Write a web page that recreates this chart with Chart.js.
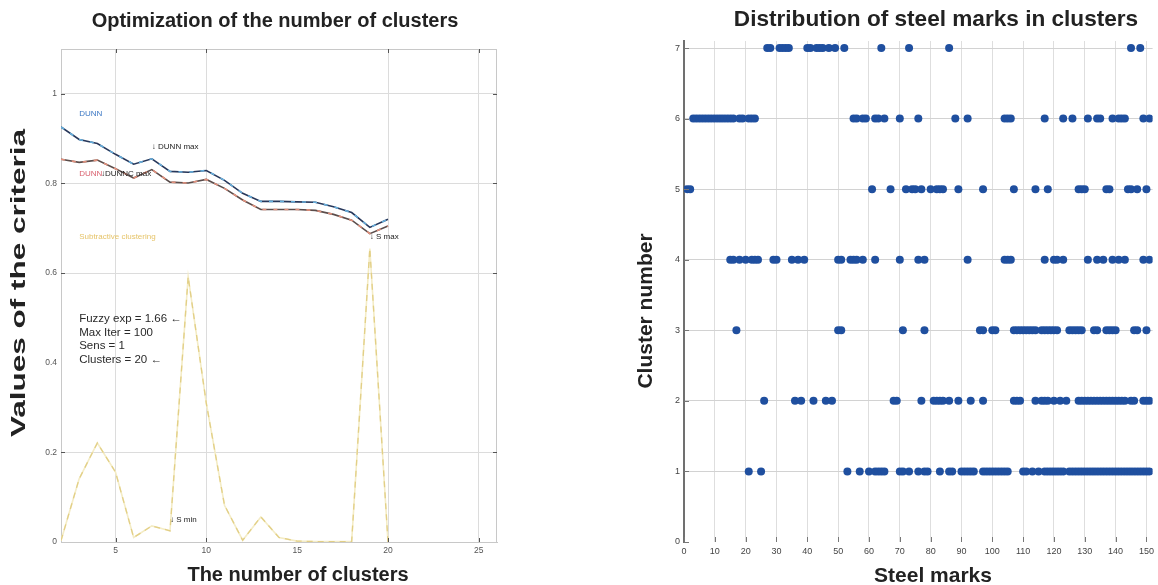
<!DOCTYPE html>
<html>
<head>
<meta charset="utf-8">
<script src="https://cdn.jsdelivr.net/npm/chart.js@4.4.1/dist/chart.umd.min.js"></script>
<style>
  html, body { margin: 0; padding: 0; background: #fff; }
  #wrap { position: relative; width: 1158px; height: 585px; overflow: hidden; background: #fff; }
  #left { position: absolute; left: 0; top: 0; }
  #right { position: absolute; left: 630px; top: 0; }
</style>
</head>
<body>
<div id="wrap">
  <canvas id="left" width="560" height="585"></canvas>
  <canvas id="right" width="528" height="585"></canvas>
</div>
<script>
// left panel: criteria vs number of clusters
const clusters = [2, 3, 4, 5, 6, 7, 8, 9, 10, 11, 12, 13, 14, 15, 16, 17, 18, 19, 20];
const dunn = [0.926, 0.898, 0.889, 0.865, 0.843, 0.855, 0.827, 0.825, 0.829, 0.807, 0.778, 0.760, 0.760, 0.759, 0.758, 0.748, 0.735, 0.702, 0.720];
const dunnc = [0.854, 0.847, 0.852, 0.833, 0.812, 0.831, 0.803, 0.801, 0.809, 0.789, 0.763, 0.742, 0.742, 0.742, 0.740, 0.731, 0.718, 0.688, 0.705];
const subtractive = [0.003, 0.141, 0.221, 0.156, 0.010, 0.036, 0.025, 0.592, 0.309, 0.082, 0.004, 0.056, 0.010, 0.002, 0.001, 0.001, 0.001, 0.655, 0.0];
const xTicksLeft = [5, 10, 15, 20, 25];
const yTicksLeft = [0, 0.2, 0.4, 0.6, 0.8, 1];
const paramLines = ['Fuzzy exp = 1.66 \u2190', 'Max Iter = 100', 'Sens = 1', 'Clusters = 20 \u2190'];

// right panel: steel marks per cluster
const cluster1 = [21, 25, 53, 57, 60, 62, 63, 64, 65, 70, 71, 73, 76, 78, 79, 83, 86, 87, 90, 91, 92, 93, 94,
  97, 98, 99, 100, 101, 102, 103, 104, 105, 110, 111, 113, 115, 117, 118, 119, 120, 121, 122, 123,
  125, 126, 127, 128, 129, 130, 131, 132, 133, 134, 135, 136, 137, 138, 139, 140, 141, 142, 143, 144,
  145, 146, 147, 148, 149, 150, 151];
const cluster2 = [26, 36, 38, 42, 46, 48, 68, 69, 77, 81, 82, 83, 84, 86, 89, 93, 97, 107, 108, 109,
  114, 116, 117, 118, 120, 122, 124, 128, 129, 130, 131, 132, 133, 134, 135, 136, 137, 138, 139, 140,
  141, 142, 143, 145, 146, 149, 150, 151];
const cluster3 = [17, 50, 51, 71, 78, 96, 97, 100, 101, 107, 108, 109, 110, 111, 112, 113, 114,
  116, 117, 118, 119, 120, 121, 125, 126, 127, 128, 129, 133, 134, 137, 138, 139, 140, 146, 147, 150];
const cluster4 = [15, 16, 18, 20, 22, 23, 24, 29, 30, 35, 37, 39, 50, 51, 54, 55, 56, 58, 62, 70, 76, 78,
  92, 104, 105, 106, 117, 120, 121, 123, 131, 134, 136, 139, 141, 143, 149, 151];
const cluster5 = [1, 2, 61, 67, 72, 74, 75, 77, 80, 82, 83, 84, 89, 97, 107, 114, 118, 128, 129, 130,
  137, 138, 144, 145, 147, 150];
const cluster6 = [3, 4, 5, 6, 7, 8, 9, 10, 11, 12, 13, 14, 15, 16, 18, 19, 21, 22, 23, 55, 56, 58, 59,
  62, 63, 65, 70, 76, 88, 92, 104, 105, 106, 117, 123, 126, 131, 134, 135, 139, 141, 142, 143, 149, 151];
const cluster7 = [27, 28, 31, 32, 33, 34, 40, 41, 43, 44, 45, 47, 49, 52, 64, 73, 86, 145, 148];
const markTicks = [0, 10, 20, 30, 40, 50, 60, 70, 80, 90, 100, 110, 120, 130, 140, 150];
const clusterTicks = [0, 1, 2, 3, 4, 5, 6, 7];

Chart.defaults.font.family = "'Liberation Sans', Arial, sans-serif";

const toXY = (xs, ys) => xs.map((x, i) => ({ x: x, y: ys[i] }));

function txt(ctx, s, x, y, font, color, align) {
  ctx.save();
  ctx.font = font;
  ctx.fillStyle = color;
  ctx.textAlign = align || 'left';
  ctx.textBaseline = 'alphabetic';
  ctx.fillText(s, x, y);
  ctx.restore();
}

function vtxt(ctx, s, x, y, font, color, stretch) {
  ctx.save();
  ctx.translate(x, y);
  ctx.rotate(-Math.PI / 2);
  ctx.scale(stretch, 1);
  ctx.font = font;
  ctx.fillStyle = color;
  ctx.textAlign = 'center';
  ctx.textBaseline = 'alphabetic';
  ctx.fillText(s, 0, 0);
  ctx.restore();
}

const leftDecor = {
  id: 'leftDecor',
  afterDraw(chart) {
    const { ctx, chartArea: a, scales: { x, y } } = chart;
    ctx.save();
    ctx.strokeStyle = '#c8c8c8';
    ctx.lineWidth = 1;
    ctx.beginPath();
    ctx.moveTo(a.left, a.top + 0.5); ctx.lineTo(a.right, a.top + 0.5);
    ctx.moveTo(a.right - 0.5, a.top); ctx.lineTo(a.right - 0.5, a.bottom);
    ctx.stroke();

    // inner tick marks
    ctx.strokeStyle = '#555';
    ctx.beginPath();
    xTicksLeft.filter(v => v !== 15).forEach(v => {
      const px = Math.round(x.getPixelForValue(v)) + 0.5;
      ctx.moveTo(px, a.bottom); ctx.lineTo(px, a.bottom - 4);
      ctx.moveTo(px, a.top); ctx.lineTo(px, a.top + 4);
    });
    yTicksLeft.filter(v => v !== 0.4 && v !== 0).forEach(v => {
      const py = Math.round(y.getPixelForValue(v)) + 0.5;
      ctx.moveTo(a.left, py); ctx.lineTo(a.left + 4, py);
      ctx.moveTo(a.right, py); ctx.lineTo(a.right - 4, py);
    });
    ctx.stroke();
    ctx.restore();

    // text annotations placed in data space
    const f8 = '8px "Liberation Sans", Arial, sans-serif';
    const P = (vx, vy) => [x.getPixelForValue(vx), y.getPixelForValue(vy) + 3];
    let p;
    p = P(3, 0.957); txt(ctx, 'DUNN', p[0], p[1], f8, '#3c78c4');
    p = P(7, 0.883); txt(ctx, '\u2193 DUNN max', p[0], p[1], f8, '#222');
    p = P(3, 0.823); txt(ctx, 'DUNN', p[0], p[1], f8, '#d9606e');
    p = P(4.2, 0.823); txt(ctx, '\u2193DUNNC max', p[0], p[1], f8, '#222');
    p = P(3, 0.682); txt(ctx, 'Subtractive clustering', p[0], p[1], f8, '#e6c46a');
    p = P(19, 0.682); txt(ctx, '\u2193 S max', p[0], p[1], f8, '#222');
    p = P(8, 0.051); txt(ctx, '\u2193 S min', p[0], p[1], f8, '#222');

    const f11 = '11.5px "Liberation Sans", Arial, sans-serif';
    p = P(3, 0.5);
    paramLines.forEach((s, i) => txt(ctx, s, p[0], p[1] + 1 + i * 13.6, f11, '#2a2a2a'));

    // titles
    txt(ctx, 'Optimization of the number of clusters', 275, 27, 'bold 20px "Liberation Sans", Arial, sans-serif', '#222', 'center');
    txt(ctx, 'The number of clusters', 298, 581, 'bold 20px "Liberation Sans", Arial, sans-serif', '#222', 'center');
    vtxt(ctx, 'Values of the criteria', 25, 283, 'bold 21px "Liberation Sans", Arial, sans-serif', '#222', 1.5);
  }
};

const rightDecor = {
  id: 'rightDecor',
  afterDraw(chart) {
    const { ctx, chartArea: a, scales: { x, y } } = chart;
    ctx.save();
    ctx.strokeStyle = '#777';
    ctx.lineWidth = 1;
    ctx.beginPath();
    markTicks.forEach(v => {
      const px = Math.round(x.getPixelForValue(v)) + 0.5;
      ctx.moveTo(px, a.bottom); ctx.lineTo(px, a.bottom - 5);
    });
    clusterTicks.forEach(v => {
      const py = Math.round(y.getPixelForValue(v)) + 0.5;
      ctx.moveTo(a.left, py); ctx.lineTo(a.left + 5, py);
    });
    ctx.stroke();
    ctx.restore();

    txt(ctx, 'Distribution of steel marks in clusters', 306, 26, 'bold 22.6px "Liberation Sans", Arial, sans-serif', '#222', 'center');
    txt(ctx, 'Steel marks', 303, 582, 'bold 21px "Liberation Sans", Arial, sans-serif', '#222', 'center');
    vtxt(ctx, 'Cluster number', 22, 311, 'bold 21px "Liberation Sans", Arial, sans-serif', '#222', 1);
  }
};

new Chart(document.getElementById('left'), {
  type: 'line',
  data: {
    datasets: [
      { label: 'DUNN', data: toXY(clusters, dunn), borderColor: '#66aedc', borderWidth: 1.6, borderDash: [4, 7], pointRadius: 0 },
      { label: 'DUNN base', data: toXY(clusters, dunn), borderColor: '#27375a', borderWidth: 1.6, pointRadius: 0 },
      { label: 'DUNNC', data: toXY(clusters, dunnc), borderColor: '#e3907c', borderWidth: 1.6, borderDash: [4, 7], pointRadius: 0 },
      { label: 'DUNNC base', data: toXY(clusters, dunnc), borderColor: '#5b4d4b', borderWidth: 1.6, pointRadius: 0 },
      { label: 'Subtractive clustering', data: toXY(clusters, subtractive), borderColor: '#e2cf86', borderWidth: 1.3, borderDash: [6, 5], pointRadius: 0 },
      { label: 'Subtractive base', data: toXY(clusters, subtractive), borderColor: '#f4ecc6', borderWidth: 1.6, pointRadius: 0 }
    ]
  },
  options: {
    responsive: false,
    animation: false,
    layout: { padding: { top: 49, right: 63, left: 0, bottom: 0 } },
    plugins: { legend: { display: false }, tooltip: { enabled: false } },
    scales: {
      x: {
        type: 'linear', min: 2, max: 26,
        afterBuildTicks: s => { s.ticks = xTicksLeft.map(v => ({ value: v })); },
        afterFit: s => { s.height = 43; },
        ticks: { font: { size: 8.5 }, color: '#555', padding: 4, maxRotation: 0 },
        grid: { drawTicks: false, color: c => (c.tick && c.tick.value === 15) ? 'rgba(0,0,0,0)' : '#dcdcdc' },
        border: { color: '#c8c8c8' }
      },
      y: {
        min: 0, max: 1.1,
        afterBuildTicks: s => { s.ticks = yTicksLeft.map(v => ({ value: v })); },
        afterFit: s => { s.width = 61; },
        ticks: { font: { size: 8.5 }, color: '#555', padding: 4, callback: v => String(Math.round(v * 10) / 10) },
        grid: { drawTicks: false, color: c => (c.tick && (c.tick.value === 0.4 || c.tick.value === 0)) ? 'rgba(0,0,0,0)' : '#dcdcdc' },
        border: { color: '#c8c8c8' }
      }
    }
  },
  plugins: [leftDecor]
});

const clusterMarks = [cluster1, cluster2, cluster3, cluster4, cluster5, cluster6, cluster7];

new Chart(document.getElementById('right'), {
  type: 'scatter',
  data: {
    datasets: clusterMarks.map((marks, i) => ({
      label: 'Cluster ' + (i + 1),
      data: marks.map(m => ({ x: m, y: i + 1 })),
      backgroundColor: '#1f4f9f',
      borderColor: '#1f4f9f',
      borderWidth: 0,
      pointRadius: 4,
      pointHoverRadius: 4
    }))
  },
  options: {
    responsive: false,
    animation: false,
    layout: { padding: { top: 41, right: 2, left: 0, bottom: 0 } },
    plugins: { legend: { display: false }, tooltip: { enabled: false } },
    scales: {
      x: {
        type: 'linear', min: 0, max: 152,
        afterBuildTicks: s => { s.ticks = markTicks.map(v => ({ value: v })); },
        afterFit: s => { s.height = 43; },
        ticks: { font: { size: 9 }, color: '#444', padding: 4, maxRotation: 0 },
        grid: { drawTicks: false, color: c => (c.tick && c.tick.value === 0) ? 'rgba(0,0,0,0)' : '#dedede' },
        border: { display: false }
      },
      y: {
        min: 0, max: 7.1,
        afterBuildTicks: s => { s.ticks = clusterTicks.map(v => ({ value: v })); },
        afterFit: s => { s.width = 54; },
        ticks: { font: { size: 9 }, color: '#444', padding: 4 },
        grid: { drawTicks: false, color: c => (c.tick && c.tick.value === 0) ? 'rgba(0,0,0,0)' : '#d2d2d2' },
        border: { color: '#707070', width: 2 }
      }
    }
  },
  plugins: [rightDecor]
});
</script>
</body>
</html>
